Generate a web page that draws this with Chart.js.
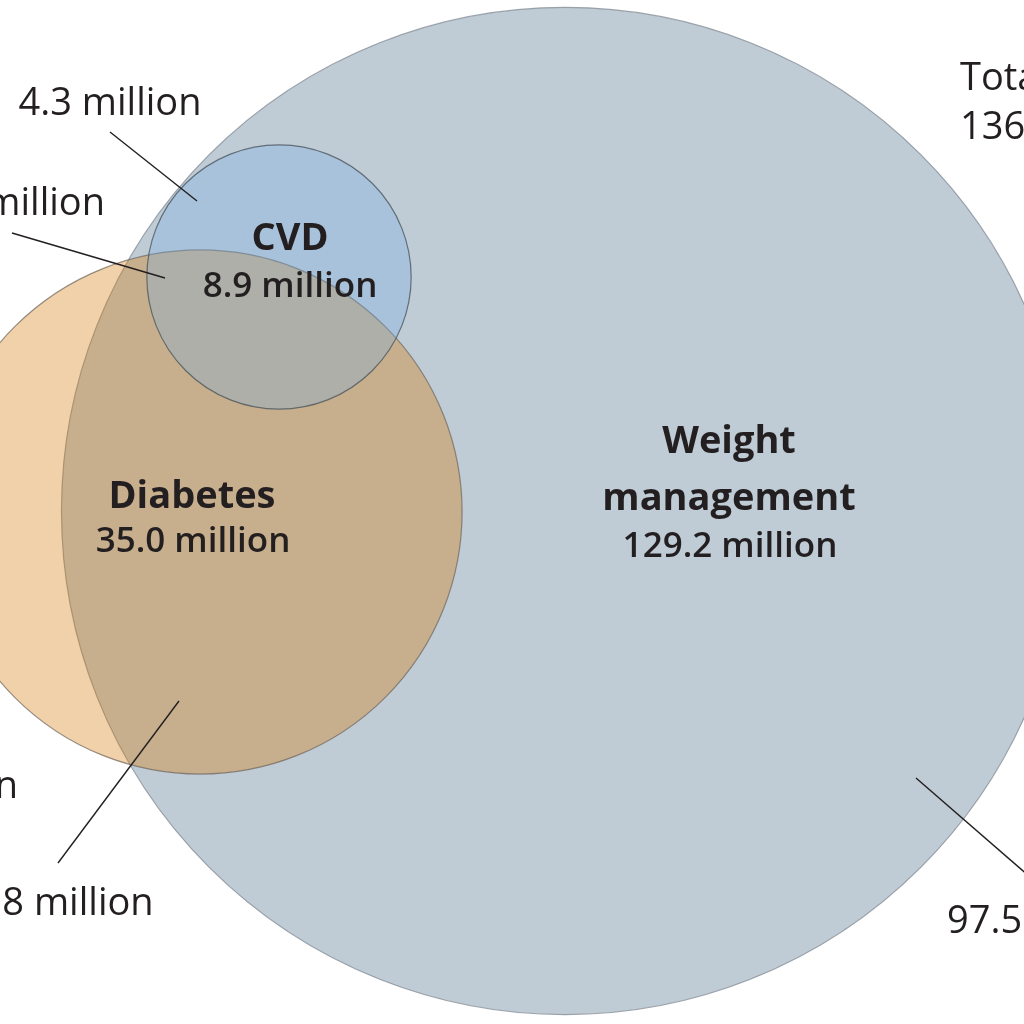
<!DOCTYPE html>
<html>
<head>
<meta charset="utf-8">
<script src="https://cdn.jsdelivr.net/npm/chart.js@4.4.1/dist/chart.umd.min.js"></script>
<style>
  html, body { margin: 0; padding: 0; background: #fff; }
  #venn { display: block; }
</style>
</head>
<body>
<canvas id="venn" width="1024" height="1024"></canvas>
<script>
// sets and their sizes (million people)
const setNames = ['Weight management', 'Diabetes', 'CVD'];
const setNameLines = [['Weight', 'management'], ['Diabetes'], ['CVD']];
const setTotals = [129.2, 35.0, 8.9];

// region callouts (partly cut off by the frame)
const calloutTexts = ['4.3 million', 'million', 'million', '8 million', '97.5 million'];
const totalLines = ['Total', '136'];

// --- layout (page units, 0..1024, y down) ---
const areaScale = 44.3; // radius = areaScale * sqrt(total)
const centres = [[565, 511], [200, 512], [279, 277]];
const fills = ['rgb(191,203,213)', 'rgba(214,122,10,0.35)', 'rgba(111,177,233,0.3)'];
const borders = ['rgba(110,120,130,0.65)', 'rgba(110,100,90,0.7)', 'rgba(70,80,90,0.75)'];
const nameAnchors = [[729, 453], [192, 508], [290, 250]];
const valueAnchors = [[730, 557], [193, 552], [290, 297]];
const calloutAnchors = [[110, 115, 'center'], [105, 215, 'right'], [18, 798, 'right'], [78, 915, 'center'], [947, 933, 'left']];
const leaders = [[110, 132, 197, 201], [12, 233, 165, 278], [58, 863, 179, 701], [916, 778, 1030, 877]];
const totalAnchor = [960, 90];

const FONT = '"Open Sans", "Noto Sans", sans-serif';

// radius in pixels, taken from the x scale so it follows the data units
const radiusFor = (i) => (ctx) => {
  const xs = ctx.chart.scales.x;
  const r = areaScale * Math.sqrt(setTotals[i]);
  return Math.abs(xs.getPixelForValue(centres[i][0] + r) - xs.getPixelForValue(centres[i][0]));
};

const datasets = setNames.map((name, i) => ({
  label: name,
  data: [{ x: centres[i][0], y: centres[i][1] }],
  pointBackgroundColor: fills[i],
  pointBorderColor: borders[i],
  pointBorderWidth: 1.2,
  pointRadius: radiusFor(i),
  pointHoverRadius: radiusFor(i),
  showLine: false,
  clip: false,
  order: setNames.length - i
}));

const labelsPlugin = {
  id: 'vennLabels',
  afterDatasetsDraw(chart) {
    const c = chart.ctx;
    const xs = chart.scales.x, ys = chart.scales.y;
    const px = (v) => xs.getPixelForValue(v);
    const py = (v) => ys.getPixelForValue(v);
    c.save();
    c.fillStyle = '#231f20';
    c.strokeStyle = '#231f20';
    c.textBaseline = 'alphabetic';

    // leader lines
    c.lineWidth = 1.4;
    leaders.forEach(([x1, y1, x2, y2]) => {
      c.beginPath();
      c.moveTo(px(x1), py(y1));
      c.lineTo(px(x2), py(y2));
      c.stroke();
    });

    // set names and totals
    c.textAlign = 'center';
    setNames.forEach((n, i) => {
      c.font = '700 38px ' + FONT;
      setNameLines[i].forEach((ln, k) => {
        c.fillText(ln, px(nameAnchors[i][0]), py(nameAnchors[i][1] + k * 57));
      });
      c.font = '600 35px ' + FONT;
      c.fillText(setTotals[i].toFixed(1) + ' million', px(valueAnchors[i][0]), py(valueAnchors[i][1]));
    });

    // callouts
    c.font = '400 38px ' + FONT;
    calloutTexts.forEach((t, i) => {
      const [x, y, al] = calloutAnchors[i];
      c.textAlign = al;
      c.fillText(t, px(x), py(y));
    });
    c.textAlign = 'left';
    totalLines.forEach((t, k) => c.fillText(t, px(totalAnchor[0]), py(totalAnchor[1] + k * 49)));
    c.restore();
  }
};

new Chart(document.getElementById('venn'), {
  type: 'scatter',
  data: { datasets },
  options: {
    responsive: false,
    animation: false,
    events: [],
    layout: { padding: 0 },
    plugins: { legend: { display: false }, tooltip: { enabled: false } },
    scales: {
      x: { type: 'linear', min: 0, max: 1024, display: false },
      y: { type: 'linear', min: 0, max: 1024, reverse: true, display: false }
    }
  },
  plugins: [labelsPlugin]
});
</script>
</body>
</html>
